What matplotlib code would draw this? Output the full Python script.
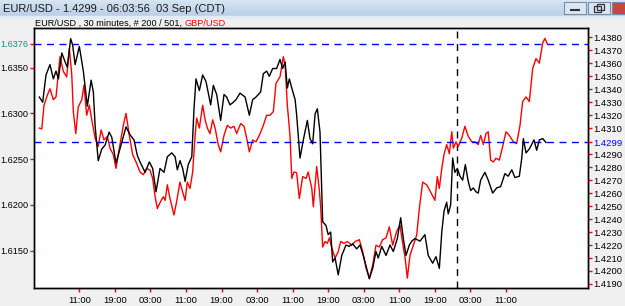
import numpy as np
import matplotlib.pyplot as plt
from matplotlib.patches import Rectangle

plt.rcParams['font.family'] = ['Liberation Sans', 'DejaVu Sans']

# EUR/USD (black, right scale): bar number, price
eur_bar = [0, 1.5, 3.0, 4.8, 6.3, 7.5, 8.6, 10.1, 11.6, 12.6, 14.1, 15.0, 16.1, 18.0, 19.8,
           21.6, 23.3, 24.3, 25.1, 26.5, 28.1, 29.6, 31.4, 32.6, 34.5, 36.6, 39.0, 40.8,
           42.6, 44.1, 45.3, 47.6, 49.5, 51.0, 52.5, 54.3, 56.1, 57.6, 59.6, 61.1, 62.1,
           63.3, 64.5, 65.6, 67.0, 68.6, 69.6, 70.5, 72.0, 73.5, 75.0, 77.1, 78.3, 79.8,
           81.6, 83.1, 84.3, 85.8, 87.3, 88.5, 90.3, 92.6, 94.5, 96.0, 97.5, 99.6, 100.8,
           102.3, 103.5, 105.0, 106.8, 108.3, 109.5, 110.6, 111.6, 112.5, 113.6, 115.1,
           115.8, 117.3, 118.8, 120.6, 121.8, 123.0, 124.1, 125.1, 126.3, 127.5, 129.0,
           130.0, 131.1, 132.0, 133.1, 134.5, 136.1, 138.0, 139.5, 141.0, 142.8, 144.3,
           146.1, 147.3, 148.5, 150.0, 151.5, 152.5, 154.1, 156.0, 157.8, 159.3, 161.1,
           162.6, 163.8, 165.0, 166.5, 167.6, 169.0, 171.3, 173.5, 175.0, 177.0, 178.5,
           180.0, 181.1, 182.1, 183.3, 184.0, 185.1, 186.0, 187.0, 188.1, 189.3, 190.5,
           191.7, 193.0, 194.1, 195.3, 196.5, 197.5, 198.6, 200.5, 202.0, 204.0, 205.8,
           207.6, 209.5, 211.0, 212.6, 214.0, 216.0, 217.1, 217.8, 219.0, 220.5, 222.6,
           223.8, 225.0, 226.5, 228.0]
eur_px = [1.4334, 1.4330, 1.4351, 1.4359, 1.4348, 1.4354, 1.4348, 1.4368, 1.4361, 1.4357,
          1.4379, 1.4374, 1.4359, 1.4373, 1.4354, 1.4327, 1.4347, 1.4338, 1.4312, 1.4285,
          1.4294, 1.4297, 1.4307, 1.4303, 1.4283, 1.4296, 1.4311, 1.4305, 1.4301, 1.4289,
          1.4284, 1.4276, 1.4284, 1.4279, 1.4261, 1.4279, 1.4276, 1.4288, 1.4291, 1.4288,
          1.4278, 1.4285, 1.4279, 1.4269, 1.4282, 1.4288, 1.4325, 1.4348, 1.4339, 1.4351,
          1.4346, 1.4328, 1.4343, 1.4336, 1.4316, 1.4336, 1.4334, 1.4328, 1.4330, 1.4332,
          1.4337, 1.4334, 1.4320, 1.4332, 1.4334, 1.4338, 1.4352, 1.4354, 1.4350, 1.4356,
          1.4356, 1.4363, 1.4356, 1.4361, 1.4341, 1.4348, 1.4341, 1.4332, 1.4320, 1.4287,
          1.4301, 1.4316, 1.4302, 1.4298, 1.4321, 1.4325, 1.4307, 1.4238, 1.4235, 1.4228,
          1.4230, 1.4207, 1.4210, 1.4197, 1.4212, 1.4220, 1.4219, 1.4221, 1.4217, 1.4220,
          1.4210, 1.4202, 1.4194, 1.4202, 1.4215, 1.4210, 1.4219, 1.4212, 1.4220, 1.4215,
          1.4225, 1.4241, 1.4225, 1.4212, 1.4220, 1.4223, 1.4225, 1.4223, 1.4228, 1.4212,
          1.4206, 1.4211, 1.4202, 1.4230, 1.4246, 1.4253, 1.4244, 1.4251, 1.4287, 1.4276,
          1.4279, 1.4273, 1.4270, 1.4282, 1.4269, 1.4262, 1.4264, 1.4261, 1.4260, 1.4270,
          1.4276, 1.4270, 1.4260, 1.4264, 1.4265, 1.4275, 1.4273, 1.4278, 1.4272, 1.4273,
          1.4287, 1.4302, 1.4291, 1.4294, 1.4301, 1.4293, 1.4301, 1.4302, 1.4299]

# GBP/USD (red, left scale)
gbp_bar = [0, 1.1, 2.1, 3.6, 4.8, 6.3, 7.5, 9.3, 10.8, 12.3, 13.5, 14.6, 15.3, 16.4, 17.5,
           19.1, 20.1, 21.3, 22.5, 23.6, 25.1, 26.5, 27.8, 29.1, 30.6, 31.8, 33.3, 34.5,
           36.0, 37.8, 39.0, 40.5, 42.0, 43.5, 45.3, 46.8, 48.3, 49.8, 51.0, 52.1, 53.1,
           54.6, 55.8, 56.6, 57.6, 58.8, 60.6, 61.8, 63.3, 64.5, 65.6, 66.6, 67.8, 69.0,
           70.1, 70.8, 72.0, 73.5, 74.6, 75.6, 76.8, 78.0, 79.1, 80.5, 81.6, 83.1, 84.6,
           86.1, 87.6, 88.8, 90.6, 92.1, 93.3, 94.5, 96.0, 97.5, 99.0, 100.8, 102.3, 103.8,
           105.3, 106.5, 108.3, 109.8, 110.6, 111.6, 112.8, 113.6, 114.6, 115.8, 117.0,
           118.5, 120.0, 121.0, 122.6, 123.3, 124.8, 126.0, 126.6, 127.5, 128.6, 129.6,
           130.5, 131.6, 133.1, 134.5, 135.6, 137.1, 138.6, 140.6, 142.1, 144.0, 145.5,
           147.0, 148.5, 150.0, 151.5, 153.0, 154.5, 156.0, 157.5, 159.0, 160.8, 162.3,
           163.5, 164.6, 165.6, 166.8, 168.6, 169.8, 171.0, 172.5, 174.3, 176.1, 178.0,
           179.1, 180.0, 181.1, 182.1, 183.3, 184.5, 185.6, 186.3, 187.5, 188.5, 190.1,
           191.5, 193.0, 194.6, 196.0, 197.5, 198.6, 199.8, 201.0, 202.0, 203.1, 204.3,
           205.5, 207.0, 208.5, 210.0, 211.5, 213.3, 214.8, 216.3, 217.5, 219.0, 220.5,
           222.0, 223.5, 225.0, 226.5, 227.5, 228.6]
gbp_px = [1.6284, 1.6283, 1.6309, 1.6320, 1.6327, 1.6315, 1.6318, 1.6362, 1.6346, 1.6340,
          1.6371, 1.6342, 1.6302, 1.6278, 1.6307, 1.6315, 1.6331, 1.6298, 1.6309, 1.6293,
          1.6273, 1.6264, 1.6282, 1.6271, 1.6275, 1.6262, 1.6255, 1.6240, 1.6262, 1.6287,
          1.6300, 1.6276, 1.6255, 1.6247, 1.6236, 1.6233, 1.6240, 1.6238, 1.6229, 1.6209,
          1.6196, 1.6204, 1.6209, 1.6205, 1.6222, 1.6207, 1.6189, 1.6204, 1.6225, 1.6214,
          1.6205, 1.6225, 1.6218, 1.6236, 1.6276, 1.6295, 1.6284, 1.6309, 1.6293, 1.6284,
          1.6278, 1.6293, 1.6284, 1.6266, 1.6258, 1.6276, 1.6287, 1.6284, 1.6286, 1.6278,
          1.6289, 1.6286, 1.6273, 1.6258, 1.6271, 1.6269, 1.6276, 1.6287, 1.6298, 1.6298,
          1.6302, 1.6333, 1.6340, 1.6362, 1.6353, 1.6309, 1.6276, 1.6229, 1.6236, 1.6235,
          1.6207, 1.6231, 1.6229, 1.6236, 1.6218, 1.6198, 1.6242, 1.6216, 1.6198, 1.6154,
          1.6160, 1.6158, 1.6164, 1.6153, 1.6142, 1.6149, 1.6160, 1.6158, 1.6160, 1.6156,
          1.6160, 1.6162, 1.6149, 1.6131, 1.6120, 1.6134, 1.6156, 1.6154, 1.6162, 1.6164,
          1.6176, 1.6156, 1.6171, 1.6178, 1.6158, 1.6142, 1.6120, 1.6145, 1.6158, 1.6167,
          1.6196, 1.6225, 1.6222, 1.6214, 1.6205, 1.6231, 1.6218, 1.6240, 1.6255, 1.6266,
          1.6256, 1.6280, 1.6262, 1.6269, 1.6264, 1.6273, 1.6286, 1.6275, 1.6269, 1.6269,
          1.6266, 1.6276, 1.6266, 1.6278, 1.6280, 1.6249, 1.6247, 1.6251, 1.6249, 1.6264,
          1.6280, 1.6276, 1.6269, 1.6267, 1.6287, 1.6313, 1.6318, 1.6313, 1.6349, 1.6360,
          1.6355, 1.6377, 1.6382, 1.6376]

gbp_ticks = [1.6150, 1.6200, 1.6250, 1.6300, 1.6350]
eur_ticks = [1.4190, 1.4200, 1.4210, 1.4220, 1.4230, 1.4240, 1.4250, 1.4260, 1.4270,
             1.4280, 1.4290, 1.4310, 1.4320, 1.4330, 1.4340, 1.4350, 1.4360, 1.4370, 1.4380]
gbp_last = 1.6376
eur_last = 1.4299
time_ticks = [18 + 16 * k for k in range(13)]
time_labels = ['11:00', '19:00', '03:00'] * 4 + ['11:00']
cursor_bar = 188

W, H = 625, 306
fig = plt.figure(figsize=(W / 100, H / 100), dpi=100)
fig.patch.set_facecolor('#f0f0f0')

# window title bar
bg = fig.add_axes([0, 0, 1, 1], zorder=-5)
bg.set_xlim(0, W)
bg.set_ylim(H, 0)
bg.axis('off')
grad = np.linspace(0, 1, 16).reshape(-1, 1)
bg.imshow(grad, extent=[0, W, 16, 0], aspect='auto',
          cmap=plt.matplotlib.colors.LinearSegmentedColormap.from_list('t', ['#d6e4f3', '#bccfe6']))
bg.add_patch(Rectangle((0, 16), W, 2, color='#e4ebf4'))
bg.text(3, 8.5, 'EUR/USD - 1.4299 - 06:03:56  03 Sep (CDT)', fontsize=8.0, va='center', color='#1a1a1a')
for x0, fc in [(564, '#dbe6f3'), (588, '#dbe6f3'), (612, '#c9463d')]:
    bg.add_patch(Rectangle((x0, 2), 22, 12, facecolor=fc, edgecolor='#7a8ea8', lw=0.8))
bg.plot([571, 579], [10, 10], color='#333333', lw=1.5)
bg.add_patch(Rectangle((594, 6), 7, 6, facecolor='none', edgecolor='#333333', lw=0.9))
bg.add_patch(Rectangle((597, 4), 7, 6, facecolor='none', edgecolor='#333333', lw=0.9))

t1 = bg.text(35, 23, 'EUR/USD , 30 minutes, # 200 / 501, ', fontsize=6.6, va='center', color='black')
bg.annotate('GBP/USD', xy=(1, 0), xycoords=t1, va='bottom', fontsize=6.6, color='red')

ax = fig.add_axes([34 / W, 18 / H, 554 / W, 260 / H])
ax.set_facecolor('white')
ax.set_xlim(-2.4, 246.9)
ax.set_ylim(1.61092, 1.63934)
ax2 = ax.twinx()
ax2.set_ylim(1.41869, 1.43872)

ax.plot(gbp_bar, gbp_px, color='red', lw=1.0, zorder=3)
ax2.plot(eur_bar, eur_px, color='black', lw=1.0, zorder=3)

ax.axhline(gbp_last, color='blue', lw=1.0, ls=(0, (5, 4)), zorder=2)
ax2.axhline(eur_last, color='blue', lw=1.0, ls=(0, (5, 4)), zorder=2)
ax.axvline(cursor_bar, color='black', lw=1.0, ls=(0, (5, 4)), zorder=2)

ax.set_yticks(gbp_ticks + [gbp_last])
ax.set_yticklabels(['%.4f' % v for v in gbp_ticks + [gbp_last]])
ax2.set_yticks(eur_ticks + [eur_last])
ax2.set_yticklabels(['%.4f' % v for v in eur_ticks + [eur_last]])
ax.set_xticks(time_ticks)
ax.set_xticklabels(time_labels)

for a in (ax, ax2):
    a.tick_params(axis='both', colors='red', labelcolor='black', length=3, width=1,
                  labelsize=6.8, pad=1)
    for s in a.spines.values():
        s.set_color('black')
        s.set_linewidth(1.0)
ax.tick_params(axis='y', labelsize=6.6)
ax.get_yticklabels()[-1].set_color('#1f8a80')
ax2.get_yticklabels()[-1].set_color('blue')
ax.tick_params(axis='x', length=3, pad=3)

fig.savefig('out.png', dpi=100, facecolor=fig.get_facecolor())
